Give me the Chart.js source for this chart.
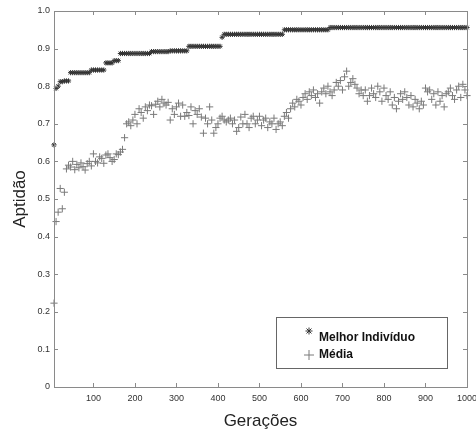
<!DOCTYPE html>
<html>
<head>
<meta charset="utf-8">
<script src="https://cdn.jsdelivr.net/npm/chart.js@4.4.1/dist/chart.umd.min.js"></script>
<style>
  html, body { margin: 0; padding: 0; background: #fff; }
  canvas { display: block; }
</style>
</head>
<body>
<canvas id="chart" width="476" height="436"></canvas>
<script>
// generations sampled every 5 steps (5 .. 1000)
const generations = [];
for (let g = 5; g <= 1000; g += 5) {
  generations.push(g);
}

const bestValues = [
  0.644, 0.794, 0.800,
  0.812, 0.812, 0.814, 0.814, 0.814,
  0.836, 0.836, 0.836, 0.836, 0.836, 0.836, 0.836, 0.836, 0.836, 0.836,
  0.843, 0.843, 0.843, 0.843, 0.843, 0.843, 0.843,
  0.862, 0.862, 0.862, 0.862,
  0.868, 0.868, 0.868,
  0.887, 0.887, 0.887, 0.887, 0.887, 0.887, 0.887, 0.887, 0.887, 0.887, 0.887, 0.887, 0.887, 0.887, 0.887,
  0.892, 0.892, 0.892, 0.892, 0.892, 0.892, 0.892, 0.892, 0.892, 0.894, 0.894, 0.894, 0.894, 0.894, 0.894, 0.894, 0.894, 0.894,
  0.906, 0.906, 0.906, 0.906, 0.906, 0.906, 0.906, 0.906, 0.906, 0.906, 0.906, 0.906, 0.906, 0.906, 0.906, 0.906,
  0.930,
  0.938, 0.938, 0.938, 0.938, 0.938, 0.938, 0.938, 0.938, 0.938, 0.938,
  0.938, 0.938, 0.938, 0.938, 0.938, 0.938, 0.938, 0.938, 0.938, 0.938,
  0.938, 0.938, 0.938, 0.938, 0.938, 0.938, 0.938, 0.938, 0.938,
  0.950, 0.950, 0.950, 0.950, 0.950, 0.950, 0.950, 0.950, 0.950, 0.950, 0.950,
  0.950, 0.950, 0.950, 0.950, 0.950, 0.950, 0.950, 0.950, 0.950, 0.950, 0.950,
  0.956, 0.956, 0.956, 0.956, 0.956, 0.956, 0.956, 0.956, 0.956, 0.956,
  0.956, 0.956, 0.956, 0.956, 0.956, 0.956, 0.956, 0.956, 0.956, 0.956,
  0.956, 0.956, 0.956, 0.956, 0.956, 0.956, 0.956, 0.956, 0.956, 0.956,
  0.956, 0.956, 0.956, 0.956, 0.956, 0.956, 0.956, 0.956, 0.956, 0.956,
  0.956, 0.956, 0.956, 0.956, 0.956, 0.956, 0.956, 0.956, 0.956, 0.956,
  0.956, 0.956, 0.956, 0.956, 0.956, 0.956, 0.956, 0.956, 0.956, 0.956,
  0.956, 0.956, 0.956, 0.956, 0.956, 0.956, 0.956
];

const meanValues = [
  0.223, 0.440, 0.465, 0.528, 0.474, 0.518, 0.580, 0.590, 0.585, 0.600,
  0.578, 0.592, 0.583, 0.596, 0.586, 0.577, 0.594, 0.600, 0.588, 0.620,
  0.600, 0.596, 0.612, 0.608, 0.595, 0.617, 0.620, 0.610, 0.600, 0.605,
  0.620, 0.618, 0.625, 0.632, 0.663, 0.700, 0.705, 0.695, 0.710, 0.725,
  0.700, 0.740, 0.730, 0.715, 0.745, 0.735, 0.750, 0.748, 0.725, 0.752,
  0.760, 0.745, 0.765, 0.755, 0.750, 0.757, 0.710, 0.740, 0.725, 0.745,
  0.755, 0.720, 0.750, 0.720, 0.730, 0.722, 0.745, 0.700, 0.735, 0.725,
  0.740, 0.718, 0.675, 0.715, 0.700, 0.745, 0.710, 0.675, 0.690, 0.700,
  0.715, 0.720, 0.710, 0.705, 0.710, 0.715, 0.700, 0.710, 0.680, 0.690,
  0.718, 0.700, 0.725, 0.700, 0.690, 0.715, 0.720, 0.700, 0.710, 0.720,
  0.695, 0.710, 0.715, 0.690, 0.705, 0.700, 0.715, 0.685, 0.700, 0.705,
  0.695, 0.720, 0.730, 0.715, 0.740, 0.755, 0.745, 0.765, 0.760, 0.750,
  0.770, 0.780, 0.765, 0.785, 0.775, 0.790, 0.770, 0.780, 0.755, 0.785,
  0.795, 0.780, 0.800, 0.785, 0.775, 0.790, 0.810, 0.800, 0.815, 0.790,
  0.825, 0.840, 0.800, 0.810, 0.820, 0.805, 0.795, 0.780, 0.790, 0.775,
  0.790, 0.760, 0.775, 0.795, 0.780, 0.770, 0.800, 0.785, 0.760, 0.795,
  0.775, 0.765, 0.785, 0.750, 0.770, 0.740, 0.760, 0.780, 0.765, 0.785,
  0.770, 0.750, 0.775, 0.745, 0.765, 0.755, 0.740, 0.760, 0.750, 0.795,
  0.785, 0.790, 0.765, 0.780, 0.750, 0.785, 0.760, 0.775, 0.745, 0.780,
  0.785, 0.795, 0.775, 0.765, 0.790, 0.800, 0.770, 0.805, 0.790, 0.775
];

const xTicks = [100, 200, 300, 400, 500, 600, 700, 800, 900, 1000];
const yTicks = [0, 0.1, 0.2, 0.3, 0.4, 0.5, 0.6, 0.7, 0.8, 0.9, 1.0];
const seriesLabels = ['Melhor Indivíduo', 'Média'];

const FRAME = '#8a8a8a';
const BEST_COLOR = '#333333';
const MEAN_COLOR = '#7a7a7a';
const FONT = '"Liberation Sans", Arial, sans-serif';

const toPoints = (values) => values.map((v, i) => ({ x: generations[i], y: v }));

// frame with inward ticks on all sides + legend box inside the plot
const framePlugin = {
  id: 'frame',
  afterDraw(chart) {
    const { ctx, chartArea: a, scales } = chart;
    ctx.save();
    ctx.strokeStyle = FRAME;
    ctx.lineWidth = 1;
    ctx.strokeRect(a.left + 0.5, a.top + 0.5, a.right - a.left, a.bottom - a.top);
    ctx.beginPath();
    xTicks.forEach((t) => {
      const px = Math.round(scales.x.getPixelForValue(t)) + 0.5;
      ctx.moveTo(px, a.bottom);
      ctx.lineTo(px, a.bottom - 4);
      ctx.moveTo(px, a.top);
      ctx.lineTo(px, a.top + 4);
    });
    yTicks.forEach((t) => {
      const py = Math.round(scales.y.getPixelForValue(t)) + 0.5;
      ctx.moveTo(a.left, py);
      ctx.lineTo(a.left + 4, py);
      ctx.moveTo(a.right, py);
      ctx.lineTo(a.right - 4, py);
    });
    ctx.stroke();

    // legend
    const lx = 276, ly = 317, lw = 171, lh = 51;
    ctx.fillStyle = '#fff';
    ctx.fillRect(lx, ly, lw, lh);
    ctx.strokeStyle = '#666';
    ctx.strokeRect(lx + 0.5, ly + 0.5, lw, lh);
    // star marker
    ctx.strokeStyle = BEST_COLOR;
    const sx = 309, sy = 331, sr = 3.5;
    ctx.beginPath();
    for (let k = 0; k < 4; k++) {
      const ang = k * Math.PI / 4;
      ctx.moveTo(sx - Math.cos(ang) * sr, sy - Math.sin(ang) * sr);
      ctx.lineTo(sx + Math.cos(ang) * sr, sy + Math.sin(ang) * sr);
    }
    ctx.stroke();
    // plus marker
    ctx.strokeStyle = MEAN_COLOR;
    const cx = 309, cy = 355, cr = 5;
    ctx.beginPath();
    ctx.moveTo(cx - cr, cy);
    ctx.lineTo(cx + cr, cy);
    ctx.moveTo(cx, cy - cr);
    ctx.lineTo(cx, cy + cr);
    ctx.stroke();
    ctx.fillStyle = '#111';
    ctx.font = 'bold 12px ' + FONT;
    ctx.textBaseline = 'middle';
    ctx.fillText(seriesLabels[0], 319, 338);
    ctx.fillText(seriesLabels[1], 319, 355);
    ctx.restore();
  }
};

new Chart(document.getElementById('chart'), {
  type: 'scatter',
  data: {
    datasets: [
      {
        label: seriesLabels[0],
        data: toPoints(bestValues),
        pointStyle: 'star',
        pointRadius: 2.6,
        borderColor: BEST_COLOR,
        backgroundColor: BEST_COLOR,
        pointBorderWidth: 1,
        clip: false
      },
      {
        label: seriesLabels[1],
        data: toPoints(meanValues),
        pointStyle: 'cross',
        pointRadius: 3.6,
        borderColor: MEAN_COLOR,
        backgroundColor: MEAN_COLOR,
        pointBorderWidth: 1,
        clip: false
      }
    ]
  },
  options: {
    responsive: false,
    animation: false,
    layout: { padding: { top: 11, right: 9, left: 0, bottom: 0 } },
    plugins: { legend: { display: false }, tooltip: { enabled: false } },
    scales: {
      x: {
        type: 'linear',
        min: 5,
        max: 1000,
        afterBuildTicks: (scale) => { scale.ticks = xTicks.map((v) => ({ value: v })); },
        afterFit: (scale) => {
          scale.height = 49;
          scale.paddingLeft = 0;
          scale.paddingRight = 0;
        },
        grid: { display: false, drawTicks: false },
        border: { display: false },
        ticks: {
          padding: 6,
          color: '#333',
          font: { family: FONT, size: 9 },
          callback: (v) => String(v)
        },
        title: {
          display: true,
          text: 'Gerações',
          color: '#222',
          padding: { top: 0, bottom: 4 },
          font: { family: FONT, size: 17 }
        }
      },
      y: {
        type: 'linear',
        min: 0,
        max: 1,
        afterBuildTicks: (scale) => { scale.ticks = yTicks.map((v) => ({ value: v })); },
        afterFit: (scale) => {
          scale.width = 54;
          scale.paddingTop = 0;
          scale.paddingBottom = 0;
        },
        grid: { display: false, drawTicks: false },
        border: { display: false },
        ticks: {
          padding: 4,
          color: '#333',
          font: { family: FONT, size: 9 },
          callback: (v) => (v === 0 ? '0' : v.toFixed(1))
        },
        title: {
          display: true,
          text: 'Aptidão',
          color: '#222',
          padding: { top: 10, bottom: 0 },
          font: { family: FONT, size: 17 }
        }
      }
    }
  },
  plugins: [framePlugin]
});
</script>
</body>
</html>
